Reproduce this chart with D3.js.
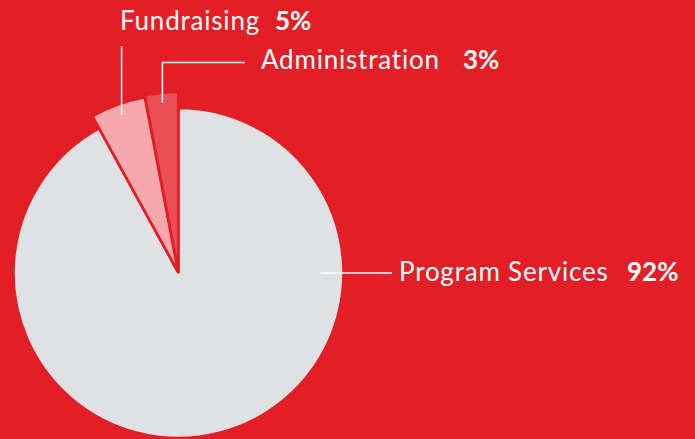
<!DOCTYPE html>
<html>
<head>
<meta charset="utf-8">
<script src="https://cdn.jsdelivr.net/npm/d3@7"></script>
<style>
  html, body { margin: 0; padding: 0; background: #e31e26; }
  svg { display: block; }
</style>
</head>
<body>
<div id="chart"></div>
<script>
// data
var categories = ["Program Services", "Fundraising", "Administration"];
var shares = [92, 5, 3];
var pctLabels = ["92%", "5%", "3%"];
var sliceColors = ["#e0e1e2", "#f5a9ad", "#ea4e56"];

var width = 695, height = 439;
var cx = 178.5, cy = 273;
var rMain = 165, rSmall = 178;

var svg = d3.select("#chart")
    .append("svg")
    .attr("width", width)
    .attr("height", height);

svg.append("rect")
    .attr("width", width)
    .attr("height", height)
    .attr("fill", "#e31e26");

var g = svg.append("g")
    .attr("transform", "translate(" + cx + "," + cy + ")");

const pie = d3.pie().sort(null).value(d => d);
var arcs = pie(shares);

// small slices stick out a bit further than the big one
const arcFor = i => d3.arc()
    .innerRadius(0)
    .outerRadius(i == 0 ? rMain : rSmall);

// little push outwards for the small slices
var explode = [0, 1, 3];

g.selectAll("path.slice")
    .data(arcs)
    .enter()
    .append("path")
    .attr("class", "slice")
    .attr("d", (d, i) => arcFor(i)(d))
    .attr("transform", (d, i) => {
        var a = (d.startAngle + d.endAngle) / 2;
        return "translate(" + (Math.sin(a) * explode[i]) + "," + (-Math.cos(a) * explode[i]) + ")";
    })
    .style("fill", (d, i) => sliceColors[i])
    .style("stroke", "#e31e26")
    .style("stroke-width", "2.6px")
    .style("stroke-linejoin", "miter");

// leader lines: start inside slice (radius), then polyline to label
// program services line leaves horizontally to the right
var leaderStartR = [142, 168, 171];
var leaderAngle = [d => Math.PI / 2, d => (d.startAngle + d.endAngle) / 2, d => (d.startAngle + d.endAngle) / 2];
var labelPos = [
    {x: 399, y: 281, pctX: 627, line: pt => [[pt[0], pt[1]], [392 - cx, pt[1]]]},
    {x: 120, y: 29.5, pctX: 275, line: pt => [[pt[0], pt[1]], [pt[0], 46 - cy]]},
    {x: 261, y: 68.5, pctX: 463, line: pt => [[pt[0], pt[1]], [pt[0], 62.5 - cy], [244.5 - cx, 62.5 - cy]]}
];

arcs.forEach(function(d, i) {
    var a = leaderAngle[i](d);
    var pt = [Math.sin(a) * leaderStartR[i], -Math.cos(a) * leaderStartR[i]];
    g.append("path")
        .attr("d", d3.line()(labelPos[i].line(pt)))
        .style("fill", "none")
        .style("stroke", "#ffffff")
        .style("stroke-width", "1.5px");

    var t = svg.append("text")
        .attr("x", labelPos[i].x)
        .attr("y", labelPos[i].y)
        .style("font-family", "Lato, 'Open Sans', sans-serif")
        .style("font-size", "26px")
        .style("font-variant-ligatures", "none")
        .style("fill", "#ffffff");
    t.append("tspan")
        .style("letter-spacing", "0.8px")
        .text(categories[i]);
    t.append("tspan")
        .attr("x", labelPos[i].pctX)
        .style("font-weight", "bold")
        .text(pctLabels[i]);
});
</script>
</body>
</html>
